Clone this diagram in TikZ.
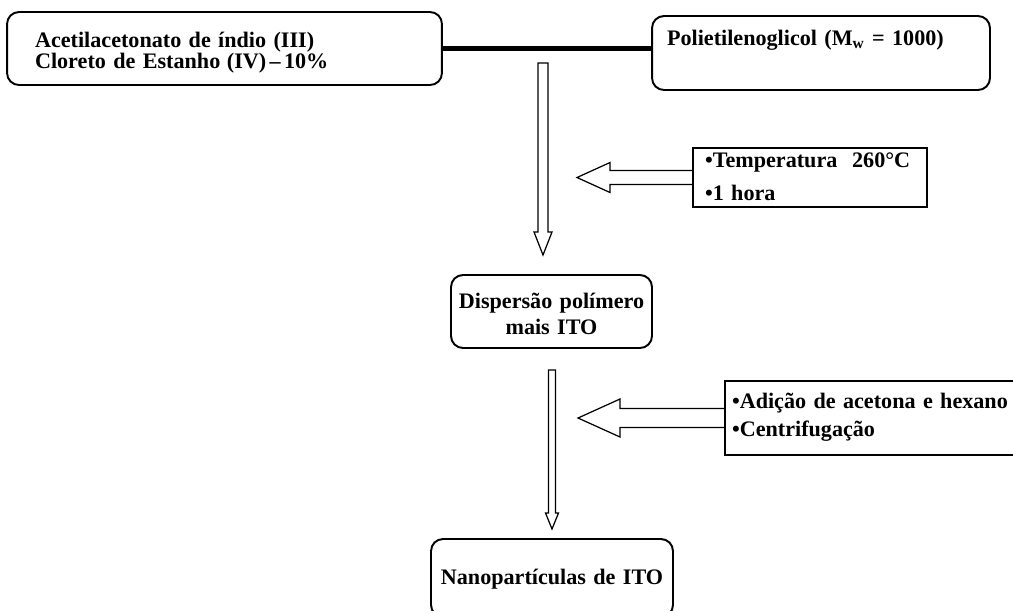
\documentclass[tikz,border=0pt]{standalone}
\usepackage{fontspec}
\setmainfont{Liberation Serif}
\usetikzlibrary{calc}
\tikzset{
  rbox/.style={draw, rounded corners=0.24cm, line width=1.1pt, inner ysep=0pt},
  sqbox/.style={draw, line width=1.1pt, inner ysep=0pt},
  hollow/.style={draw, line width=0.7pt, line join=miter}
}
% hollow block arrows: start, tip, shaft half width, head half width, head length
\newcommand{\hollowdown}[5]{%
  \draw[hollow] ($(#1)+(-#3,0)$) -- ($(#2)+(-#3,-#5)$) -- ($(#2)+(-#4,-#5)$) -- (#2)
    -- ($(#2)+(#4,-#5)$) -- ($(#2)+(#3,-#5)$) -- ($(#1)+(#3,0)$) -- cycle;}
\newcommand{\hollowleft}[5]{%
  \draw[hollow] ($(#1)+(0,-#3)$) -- ($(#2)+(#5,-#3)$) -- ($(#2)+(#5,-#4)$) -- (#2)
    -- ($(#2)+(#5,#4)$) -- ($(#2)+(#5,#3)$) -- ($(#1)+(0,#3)$);}
\begin{document}
\begin{tikzpicture}[x=0.02cm, y=-0.02cm]
  \useasboundingbox (0,0) rectangle (1013,610);
  \node[rbox, minimum width=8.7cm, minimum height=1.46cm, text width=7.58cm, inner xsep=0.56cm, align=left,
        text height=12pt, text depth=13.7pt,
        font=\fontsize{12.6}{12}\selectfont\bfseries] (acet) at (224.5,48.5)
        {Acetilacetonato de índio (III)\\Cloreto de Estanho\hspace{0.3em}(IV)\hspace{0.15em}--\hspace{0.15em}10\%};
  \node[rbox, minimum width=6.76cm, minimum height=1.48cm, text width=6.16cm, inner xsep=0.3cm, align=left,
        text height=9pt, text depth=18.1pt,
        font=\fontsize{12.6}{12}\selectfont\bfseries] (poli) at (821,53)
        {Polietilenoglicol (M\textsubscript{w} = 1000)};
  \draw[line width=2.6pt] (acet.east) -- (acet.east -| poli.west);

  \node[sqbox, minimum width=4.68cm, minimum height=1.18cm, text width=4.2cm, inner xsep=0.24cm, align=left,
        text height=9pt, text depth=20.1pt,
        font=\fontsize{12.6}{18.9}\selectfont\bfseries] (temp) at (810,177.5)
        {•Temperatura~ 260°C\\•1 hora};
  \node[rbox, minimum width=4.02cm, minimum height=1.46cm, text width=3.8cm, inner xsep=0.11cm, align=center,
        text height=9pt, text depth=13pt,
        font=\fontsize{12.6}{15}\selectfont\bfseries] (disp) at (551.5,311.5)
        {Dispersão polímero\\mais ITO};
  \node[sqbox, minimum width=6cm, minimum height=1.48cm, text width=5.72cm, inner xsep=0.14cm, align=left,
        text height=9pt, text depth=20.3pt,
        font=\fontsize{12.6}{16.4}\selectfont\bfseries] (adic) at (875,418)
        {•Adição de acetona e hexano\\•Centrifugação};
  \node[rbox, minimum width=4.84cm, minimum height=1.56cm, text width=4.6cm, inner xsep=0.12cm, align=center,
        text height=10pt, text depth=2.1pt,
        font=\fontsize{12.6}{15}\selectfont\bfseries] (nano) at (552,578)
        {Nanopartículas de ITO};

  \coordinate (down1s) at (543,63);
  \coordinate (down1t) at (543,255);
  \coordinate (left1t) at (577,177.5);
  \coordinate (down2s) at (552,370);
  \coordinate (down2t) at (552,529);
  \coordinate (left2t) at (578,418);
  \hollowdown{down1s}{down1t}{5}{9}{23}
  \hollowleft{temp.west}{left1t}{7}{15}{33}
  \hollowdown{down2s}{down2t}{3.5}{6.5}{16}
  \hollowleft{adic.west}{left2t}{9.5}{19}{42}
\end{tikzpicture}
\end{document}
